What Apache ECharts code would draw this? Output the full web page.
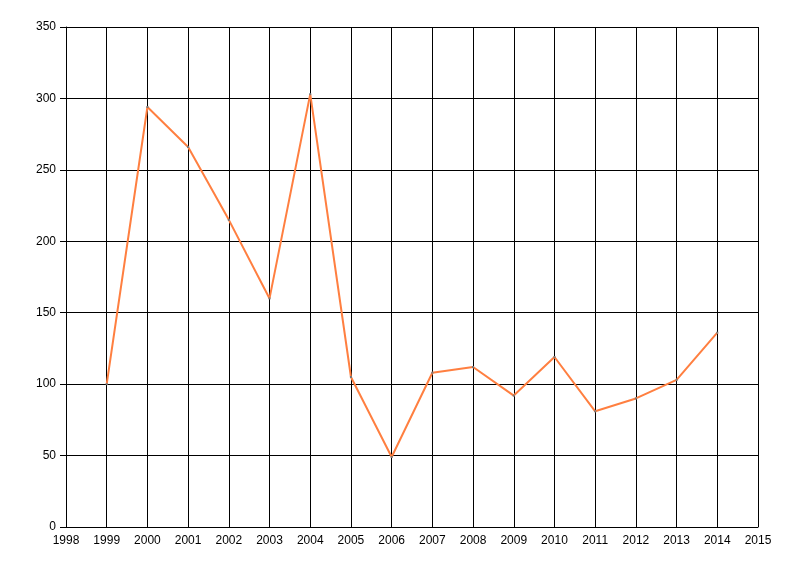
<!DOCTYPE html>
<html><head><meta charset="utf-8">
<script src="https://cdn.jsdelivr.net/npm/echarts@6/dist/echarts.min.js"></script>
<style>html,body{margin:0;padding:0;background:#fff}#c{width:800px;height:576px}</style>
</head><body><div id="c"></div>
<script>
const years = [1999,2000,2001,2002,2003,2004,2005,2006,2007,2008,2009,2010,2011,2012,2013,2014];
const values = [100,294,266,215,160,303,105,49,108,112,92,119,81,90,103,136];
const chart = echarts.init(document.getElementById('c'));
const lbl = {color:'#000', fontFamily:'Liberation Sans, Arial, sans-serif', fontSize:12};
chart.setOption({
  animation:false,
  grid:{left:66, right:42, top:27, bottom:49, containLabel:false},
  xAxis:{type:'value', min:1998, max:2015, interval:1,
    axisLine:{show:true, lineStyle:{color:'#000', width:1}},
    axisTick:{show:false},
    axisLabel:Object.assign({margin:8, formatter:v=>String(v)}, lbl),
    splitLine:{show:true, lineStyle:{color:'#000', width:1}}},
  yAxis:{type:'value', min:0, max:350, interval:50,
    axisLine:{show:true, lineStyle:{color:'#000', width:1}},
    axisTick:{show:true, length:6, lineStyle:{color:'#000'}},
    axisLabel:Object.assign({margin:10}, lbl),
    splitLine:{show:true, lineStyle:{color:'#000', width:1}}},
  series:[{type:'line', data:years.map((y,i)=>[y,values[i]]),
    lineStyle:{color:'#ff7f40', width:2},
    symbol:'rect', symbolSize:2, itemStyle:{color:'#777'}, showSymbol:true}]
});
</script></body></html>
